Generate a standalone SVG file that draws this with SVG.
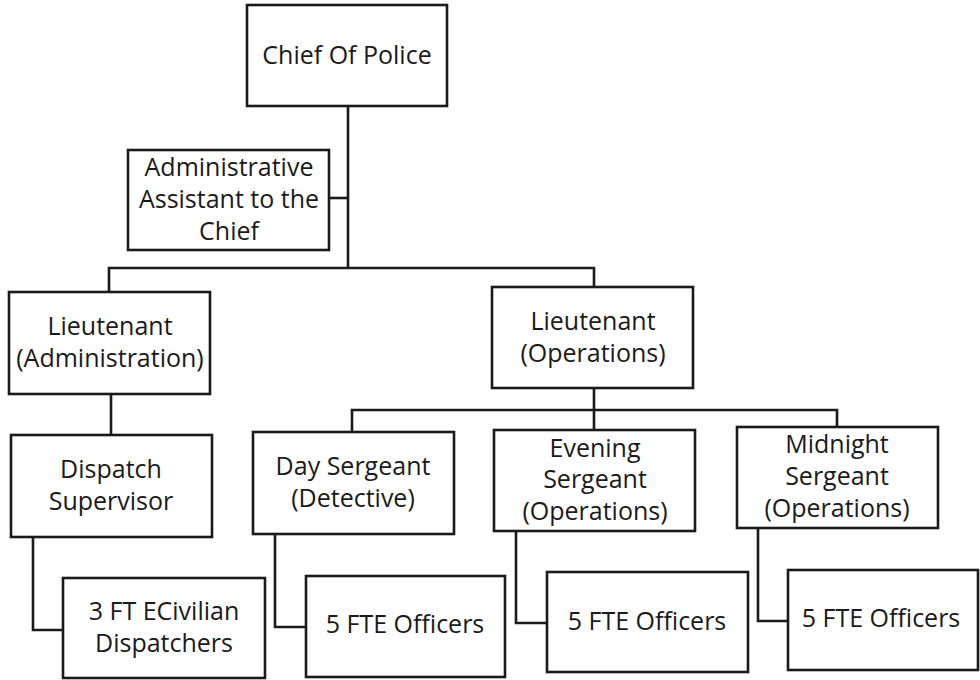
<svg xmlns="http://www.w3.org/2000/svg" width="980" height="680" viewBox="0 0 980 680">
<style>
.box{fill:#fff;stroke:#1a1a1a;stroke-width:2.6}
.ln{fill:none;stroke:#1a1a1a;stroke-width:2.6}
text{font-family:"Open Sans","Noto Sans",sans-serif;font-size:25px;fill:#1a1a1a;text-anchor:middle}
</style>
<rect width="980" height="680" fill="#fff"/>
<g id="connectors">
<path class="ln" d="M348 107 V268"/>
<path class="ln" d="M329 198 H348"/>
<path class="ln" d="M109 292 V268 H594 V287"/>
<path class="ln" d="M111 394 V435"/>
<path class="ln" d="M33 537 V630 H63"/>
<path class="ln" d="M594 388 V430"/>
<path class="ln" d="M352 432 V410 H837 V427"/>
<path class="ln" d="M275 534 V627 H306"/>
<path class="ln" d="M516 531 V623 H547"/>
<path class="ln" d="M758 528 V621 H788"/>
</g>
<g id="chief"><rect class="box" x="247" y="5" width="200" height="101"/><text x="347" y="64">Chief Of Police</text></g>
<g id="admin-assistant"><rect class="box" x="128" y="150" width="201" height="100"/><text x="229" y="176">Administrative</text><text x="229" y="208">Assistant to the</text><text x="229" y="240">Chief</text></g>
<g id="lt-admin"><rect class="box" x="9" y="292" width="201" height="102"/><text x="110" y="335">Lieutenant</text><text x="110" y="367">(Administration)</text></g>
<g id="lt-ops"><rect class="box" x="492" y="287" width="201" height="101"/><text x="593" y="330">Lieutenant</text><text x="593" y="362">(Operations)</text></g>
<g id="dispatch-supervisor"><rect class="box" x="11" y="435" width="201" height="102"/><text x="111" y="478">Dispatch</text><text x="111" y="510">Supervisor</text></g>
<g id="dispatchers"><rect class="box" x="63" y="578" width="202" height="100"/><text x="164" y="620">3 FT ECivilian</text><text x="164" y="652">Dispatchers</text></g>
<g id="day-sergeant"><rect class="box" x="253" y="432" width="201" height="102"/><text x="353" y="475">Day Sergeant</text><text x="353" y="507">(Detective)</text></g>
<g id="evening-sergeant"><rect class="box" x="494" y="430" width="201" height="101"/><text x="595" y="457">Evening</text><text x="595" y="488">Sergeant</text><text x="595" y="520">(Operations)</text></g>
<g id="midnight-sergeant"><rect class="box" x="737" y="427" width="201" height="101"/><text x="837" y="453">Midnight</text><text x="837" y="485">Sergeant</text><text x="837" y="517">(Operations)</text></g>
<g id="officers-day"><rect class="box" x="306" y="576" width="199" height="101"/><text x="405" y="633">5 FTE Officers</text></g>
<g id="officers-evening"><rect class="box" x="547" y="572" width="201" height="100"/><text x="647" y="630">5 FTE Officers</text></g>
<g id="officers-midnight"><rect class="box" x="788" y="570" width="190" height="100"/><text x="881" y="627">5 FTE Officers</text></g>
</svg>
